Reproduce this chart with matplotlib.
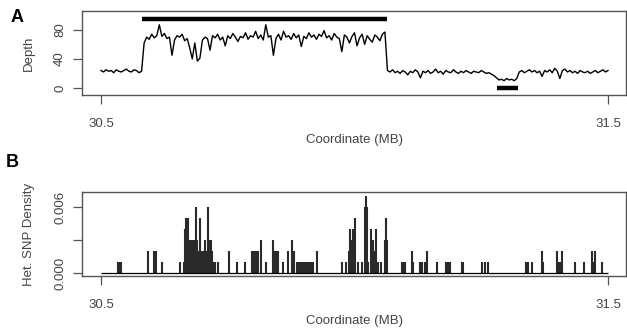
import numpy as np
import matplotlib
matplotlib.use('Agg')
import matplotlib.pyplot as plt

plt.rcParams['font.family'] = ['Liberation Sans', 'DejaVu Sans']

# panel A: read depth along the region (one value every 0.005 MB)
coord_start, coord_end = 30.5, 31.5
depth = [24, 22, 25, 23, 24, 21, 25, 23, 22, 24, 26, 23, 22, 25, 24, 21, 23,
         62, 70, 67, 74, 69, 72, 87, 71, 75, 68, 70, 45, 66, 72, 70, 74, 65, 68,
         55, 40, 62, 37, 41, 66, 70, 68, 52, 72, 69, 74, 66, 70, 58, 72, 68, 75,
         70, 64, 71, 69, 76, 67, 72, 70, 78, 68, 73, 66, 87, 70, 72, 45, 68, 74,
         66, 78, 70, 72, 67, 75, 69, 73, 57, 71, 68, 76, 70, 73, 67, 74, 71, 79,
         69, 72, 66, 75, 70, 68, 50, 73, 70, 62, 71, 76, 58, 69, 74, 60, 72, 67,
         63, 73, 70, 65, 74, 77,
         24, 22, 25, 21, 23, 20, 24, 22, 18, 23, 21, 25, 22, 14, 23, 21, 24, 20,
         22, 26, 21, 23, 19, 24, 22, 21, 25, 22, 20, 23, 21, 24, 22, 20, 23, 22,
         21, 24, 22, 20, 21, 19, 17, 14, 11, 12, 10, 13, 11, 12, 10, 13, 22, 24,
         21, 23, 25, 22, 24, 21, 23, 16, 24, 22, 25, 21, 27, 23, 13, 24, 26, 22,
         24, 21, 23, 20, 24, 22, 21, 23, 20, 22, 24, 21, 23, 25, 22, 24]
depth_pos = np.linspace(coord_start, coord_end, len(depth))

# duplicated regions marked above / below the trace
gain_start, gain_end, gain_y = 30.581, 31.064, 95
loss_start, loss_end, loss_y = 31.282, 31.323, 0

# panel B: het SNP density spikes (position MB, density)
snp_pos = [30.534, 30.536, 30.537, 30.539, 30.593, 30.605, 30.607, 30.608,
           30.620, 30.656, 30.664, 30.666, 30.668, 30.670, 30.672, 30.674,
           30.676, 30.678, 30.679, 30.681, 30.683, 30.685, 30.687, 30.689,
           30.691, 30.693, 30.695, 30.697, 30.699, 30.701, 30.703, 30.705,
           30.707, 30.709, 30.711, 30.713, 30.715, 30.717, 30.719, 30.721,
           30.725, 30.731, 30.752, 30.768, 30.784, 30.798, 30.800, 30.802,
           30.806, 30.808, 30.810, 30.816, 30.825, 30.839, 30.843, 30.845,
           30.847, 30.849, 30.859, 30.869, 30.877, 30.881, 30.887, 30.889,
           30.893, 30.896, 30.898, 30.902, 30.904, 30.906, 30.910, 30.912,
           30.914, 30.918, 30.926, 30.975, 30.983, 30.989, 30.991, 30.993,
           30.995, 30.997, 31.001, 31.007, 31.015, 31.021, 31.023, 31.025,
           31.027, 31.033, 31.035, 31.036, 31.038, 31.042, 31.046, 31.052,
           31.060, 31.062, 31.064, 31.094, 31.098, 31.100, 31.113, 31.115,
           31.129, 31.133, 31.139, 31.143, 31.163, 31.180, 31.184, 31.188,
           31.212, 31.214, 31.251, 31.257, 31.263, 31.338, 31.342, 31.350,
           31.370, 31.372, 31.399, 31.401, 31.403, 31.407, 31.409, 31.435,
           31.453, 31.468, 31.470, 31.472, 31.474, 31.488]
snp_density = [0.001, 0.001, 0.001, 0.001, 0.002, 0.002, 0.001, 0.002,
               0.001, 0.001, 0.001, 0.004, 0.005, 0.003, 0.005, 0.003,
               0.003, 0.002, 0.003, 0.002, 0.003, 0.002, 0.006, 0.003,
               0.002, 0.001, 0.005, 0.002, 0.001, 0.002, 0.001, 0.003,
               0.001, 0.002, 0.006, 0.003, 0.003, 0.003, 0.002, 0.001,
               0.001, 0.001, 0.002, 0.001, 0.001, 0.002, 0.001, 0.002,
               0.002, 0.001, 0.002, 0.003, 0.001, 0.003, 0.002, 0.001,
               0.002, 0.002, 0.001, 0.002, 0.003, 0.002, 0.001, 0.001,
               0.001, 0.001, 0.001, 0.001, 0.001, 0.001, 0.001, 0.001,
               0.001, 0.001, 0.002, 0.001, 0.001, 0.002, 0.004, 0.003,
               0.002, 0.004, 0.005, 0.001, 0.001, 0.006, 0.007, 0.006,
               0.001, 0.004, 0.002, 0.003, 0.002, 0.004, 0.001, 0.001,
               0.003, 0.005, 0.003, 0.001, 0.001, 0.001, 0.002, 0.001,
               0.001, 0.001, 0.001, 0.002, 0.001, 0.001, 0.001, 0.001,
               0.001, 0.001, 0.001, 0.001, 0.001, 0.001, 0.001, 0.001,
               0.002, 0.001, 0.002, 0.001, 0.001, 0.001, 0.002, 0.001,
               0.001, 0.002, 0.001, 0.001, 0.002, 0.001]

xticks = [30.5, 31.5]
xtick_labels = ['30.5', '31.5']

fig = plt.figure(figsize=(6.27, 3.28), dpi=100)
ax_a = fig.add_axes([0.1308, 0.7104, 0.8676, 0.2561])
ax_b = fig.add_axes([0.1308, 0.1585, 0.8676, 0.2561])

axis_col = '#555555'
text_col = '#444444'

ax_a.plot(depth_pos, depth, color='black', lw=1.0)
ax_a.hlines([gain_y], gain_start, gain_end, color='black', lw=3.2)
ax_a.hlines([loss_y], loss_start, loss_end, color='black', lw=3.2)
ax_a.set_ylim(-9.7, 106)
ax_a.set_yticks([0, 40, 80])
ax_a.set_ylabel('Depth', fontsize=9.5, color=text_col, labelpad=14)

ax_b.vlines(snp_pos, 0, snp_density, color='#2a2a2a', lw=1.5)
ax_b.hlines([0], coord_start, coord_end, color='black', lw=0.9)
ax_b.set_ylim(-0.00027, 0.00736)
ax_b.set_yticks([0, 0.003, 0.006])
ax_b.set_yticklabels(['0.000', '', '0.006'])
ax_b.set_ylabel('Het. SNP Density', fontsize=9.5, color=text_col, labelpad=14)

for ax in (ax_a, ax_b):
    ax.set_xlim(30.4625, 31.5355)
    ax.set_xticks(xticks)
    ax.set_xticklabels(xtick_labels)
    ax.set_xlabel('Coordinate (MB)', fontsize=9.5, color=text_col, labelpad=3)
    for s in ax.spines.values():
        s.set_color(axis_col)
        s.set_linewidth(1.0)
    ax.tick_params(axis='x', length=6.5, width=0.9, color=axis_col, pad=10,
                   labelsize=9.5, labelcolor=text_col)
    ax.tick_params(axis='y', length=6.5, width=0.9, color=axis_col, pad=5,
                   labelsize=9.5, labelcolor=text_col, labelrotation=90)
    for lab in ax.get_yticklabels():
        lab.set_va('center')

fig.text(0.027, 0.948, 'A', fontsize=13, fontweight='bold', ha='center', va='center')
fig.text(0.019, 0.505, 'B', fontsize=13, fontweight='bold', ha='center', va='center')

fig.savefig('out.png', dpi=100)
